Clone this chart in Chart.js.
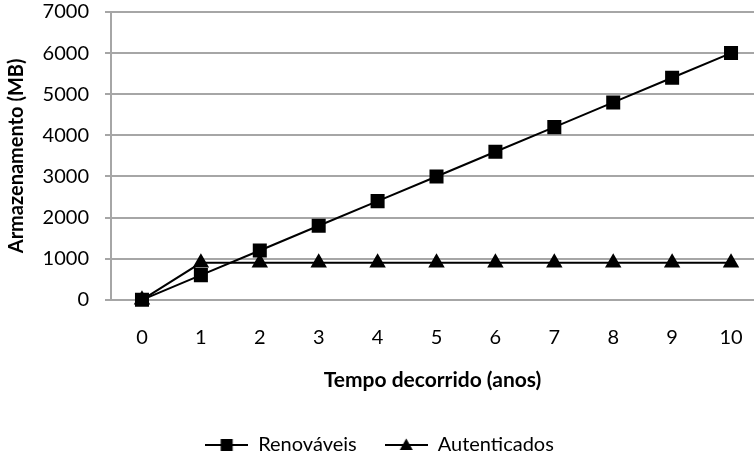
<!DOCTYPE html>
<html>
<head>
<meta charset="utf-8">
<script src="https://cdn.jsdelivr.net/npm/chart.js@4.4.0/dist/chart.umd.min.js"></script>
<style>
  html, body { margin: 0; padding: 0; background: #fff; }
  #wrap { width: 754px; height: 455px; }
</style>
</head>
<body>
<div id="wrap"><canvas id="myChart"></canvas></div>
<script>
const years = [0, 1, 2, 3, 4, 5, 6, 7, 8, 9, 10];
const renovaveis = [0, 600, 1200, 1800, 2400, 3000, 3600, 4200, 4800, 5400, 6000];
const autenticados = [0, 900, 900, 900, 900, 900, 900, 900, 900, 900, 900];
const yTicks = [0, 1000, 2000, 3000, 4000, 5000, 6000, 7000];

const FONT = 'Lato';

// legend icon: line with the marker in the middle
function legendIcon(style){
  const c = document.createElement('canvas');
  c.width = 43; c.height = 16;
  const g = c.getContext('2d');
  g.strokeStyle = '#000';
  g.lineWidth = 2;
  g.beginPath(); g.moveTo(0, 8); g.lineTo(43, 8); g.stroke();
  g.fillStyle = '#000';
  if(style === 'rect'){
    g.fillRect(15.5, 2, 12, 12);
  } else {
    g.beginPath(); g.moveTo(21.5, 1.5); g.lineTo(28, 13); g.lineTo(15, 13); g.closePath(); g.fill();
  }
  return c;
}

const data = {
  datasets: [{
    label: 'Renováveis',
    data: years.map((x, i) => ({x: x, y: renovaveis[i]})),
    borderColor: '#000',
    backgroundColor: '#000',
    borderWidth: 2,
    pointStyle: 'rect',
    pointRadius: 8.5,
    pointHoverRadius: 8.5,
    legendIcon: legendIcon('rect')
  }, {
    label: 'Autenticados',
    data: years.map((x, i) => ({x: x, y: autenticados[i]})),
    borderColor: '#000',
    backgroundColor: '#000',
    borderWidth: 2,
    pointStyle: 'triangle',
    pointRadius: 7.5,
    pointHoverRadius: 7.5,
    legendIcon: legendIcon('triangle')
  }]
};

const config = {
  type: 'line',
  data: data,
  options: {
    responsive: true,
    maintainAspectRatio: false,
    animation: false,
    clip: false,
    layout: { autoPadding: false, padding: { top: 1, right: 0, bottom: -10, left: 5 } },
    plugins: {
      legend: {
        position: 'bottom',
        labels: {
          color: '#000',
          font: { family: FONT, size: 20 },
          usePointStyle: true,
          pointStyleWidth: 43,
          padding: 28,
          generateLabels: function(chart){
            return chart.data.datasets.map((ds, i) => ({
              text: ds.label,
              pointStyle: ds.legendIcon,
              fillStyle: '#000',
              strokeStyle: '#000',
              lineWidth: 0,
              hidden: false,
              datasetIndex: i
            }));
          }
        }
      },
      tooltip: { enabled: false }
    },
    scales: {
      x: {
        type: 'linear',
        min: -0.526,
        max: 10.39,
        afterBuildTicks: function(axis){ axis.ticks = years.map(v => ({value: v})); },
        afterFit: function(axis){
          axis.paddingLeft = 0;
          axis.paddingRight = 0;
        },
        grid: { display: false, drawTicks: false },
        border: { display: false },
        ticks: { color: '#000', font: { family: FONT, size: 20 }, padding: 26, autoSkip: false,
                 maxRotation: 0, callback: v => String(v) },
        title: { display: true, text: 'Tempo decorrido (anos)', color: '#000',
                 font: { family: FONT, size: 21, weight: 'bold' }, padding: { top: -8, bottom: 14 } }
      },
      y: {
        min: 0,
        max: 7000,
        afterBuildTicks: function(axis){ axis.ticks = yTicks.map(v => ({value: v})); },
        afterFit: function(axis){
          axis.width = 106;
          axis.paddingTop = 12;
          axis.paddingBottom = 12;
        },
        grid: { color: '#a6a6a6', lineWidth: 2, drawTicks: true, tickLength: 6 },
        border: { color: '#a6a6a6', width: 2 },
        ticks: { color: '#000', font: { family: FONT, size: 20 }, padding: 16,
                 callback: v => String(v) },
        title: { display: true, text: 'Armazenamento (MB)', color: '#000',
                 font: { family: FONT, size: 20, weight: 'bold' }, padding: { top: 0, bottom: 0 } }
      }
    }
  }
};

const myChart = new Chart(document.getElementById('myChart'), config);
</script>
</body>
</html>
